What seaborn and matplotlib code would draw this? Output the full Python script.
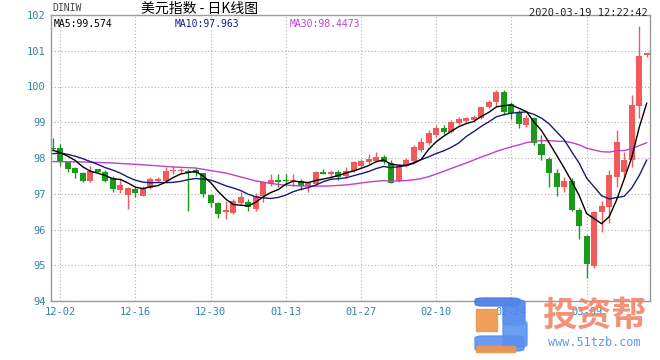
import numpy as np
import pandas as pd
import matplotlib
matplotlib.use("Agg")
import matplotlib.pyplot as plt
from matplotlib.patches import FancyBboxPatch, Rectangle
import seaborn as sns

# ---------------- data ----------------
start_date = "2019-11-29"
end_date = "2020-03-19"

opens = [98.28, 98.27, 97.89, 97.72, 97.57, 97.35, 97.68, 97.62, 97.43, 97.11,
         96.97, 97.13, 96.94, 97.16, 97.37, 97.37, 97.64, 97.64, 97.65, 97.66,
         97.57, 96.96, 96.75, 96.50, 96.47, 96.75, 96.77, 96.57, 96.94, 97.27,
         97.39, 97.38, 97.36, 97.37, 97.21, 97.27, 97.60, 97.56, 97.60, 97.51,
         97.65, 97.79, 97.89, 97.91, 98.03, 97.86, 97.37, 97.79, 97.93, 98.23,
         98.42, 98.65, 98.85, 98.73, 98.98, 99.04, 99.07, 99.12, 99.42, 99.58,
         99.86, 99.52, 99.28, 98.93, 99.12, 98.40, 97.98, 97.58, 97.19, 97.37,
         96.55, 95.81, 94.99, 96.48, 96.63, 97.47, 97.62, 97.95, 99.46, 100.87]
highs = [98.55, 98.38, 97.93, 97.76, 97.60, 97.79, 97.70, 97.67, 97.50, 97.40,
         97.18, 97.18, 97.23, 97.46, 97.48, 97.75, 97.78, 97.72, 97.70, 97.72,
         97.58, 96.99, 96.78, 96.80, 96.85, 97.04, 96.85, 97.01, 97.37, 97.56,
         97.56, 97.56, 97.56, 97.40, 97.32, 97.65, 97.70, 97.67, 97.67, 97.76,
         97.93, 97.98, 98.12, 98.17, 98.08, 97.95, 97.84, 98.00, 98.35, 98.56,
         98.79, 98.93, 98.93, 99.07, 99.14, 99.16, 99.20, 99.44, 99.63, 99.89,
         99.89, 99.58, 99.35, 99.20, 99.15, 98.65, 98.04, 97.69, 97.48, 97.44,
         96.60, 95.85, 96.51, 96.81, 97.67, 98.77, 98.18, 99.77, 101.68, 100.95]
lows = [98.20, 97.79, 97.62, 97.43, 97.32, 97.32, 97.58, 97.32, 97.04, 97.03,
        96.58, 96.90, 96.94, 97.13, 97.33, 97.32, 97.55, 97.58, 96.53, 97.50,
        96.90, 96.62, 96.33, 96.30, 96.42, 96.68, 96.52, 96.52, 96.76, 97.23,
        97.20, 97.23, 97.23, 97.10, 97.04, 97.23, 97.55, 97.44, 97.39, 97.44,
        97.62, 97.74, 97.84, 97.88, 97.82, 97.29, 97.32, 97.76, 97.88, 98.18,
        98.37, 98.60, 98.68, 98.70, 98.93, 98.98, 99.02, 99.09, 99.40, 99.46,
        99.21, 99.09, 98.85, 98.88, 98.37, 97.95, 97.20, 96.94, 97.06, 96.51,
        95.73, 94.64, 94.92, 95.92, 96.18, 97.20, 97.44, 97.76, 99.12, 100.82]
closes = [98.25, 97.89, 97.70, 97.57, 97.35, 97.65, 97.60, 97.37, 97.13, 97.25,
          97.16, 97.01, 97.16, 97.40, 97.41, 97.63, 97.66, 97.66, 97.60, 97.57,
          97.00, 96.73, 96.42, 96.55, 96.80, 96.90, 96.62, 96.94, 97.32, 97.39,
          97.32, 97.36, 97.38, 97.21, 97.29, 97.62, 97.56, 97.60, 97.48, 97.65,
          97.89, 97.93, 97.98, 98.03, 97.89, 97.30, 97.79, 97.95, 98.31, 98.46,
          98.70, 98.85, 98.73, 99.00, 99.10, 99.13, 99.16, 99.42, 99.58, 99.86,
          99.30, 99.26, 98.95, 99.12, 98.42, 98.09, 97.58, 97.19, 97.36, 96.55,
          96.09, 95.04, 96.48, 96.65, 97.53, 98.46, 97.95, 99.49, 100.86, 100.93]

# moving-average values before enough candles are on screen
ma5_head = [98.22, 98.15, 98.05, 97.93]
ma10_head = [98.12, 98.14, 98.10, 98.05, 97.98, 97.90, 97.82, 97.73, 97.66]
ma30_head_idx = [0, 4, 8, 12, 16, 19, 23, 27]
ma30_head_val = [97.90, 97.89, 97.86, 97.81, 97.75, 97.72, 97.58, 97.36]

tick_labels = ["12-02", "12-16", "12-30", "01-13", "01-27", "02-10", "02-24", "03-09"]
y_ticks = [94, 95, 96, 97, 98, 99, 100, 101, 102]

title_text = "美元指数 - 日K线图"
symbol_text = "DINIW"
stamp_text = "2020-03-19 12:22:42"
ma_labels = ["MA5:99.574", "MA10:97.963", "MA30:98.4473"]
brand_text = "投资帮"
url_text = "www.51tzb.com"

# ---------------- derived tables ----------------
dates = pd.bdate_range(start_date, end_date)
df = pd.DataFrame({"date": dates, "open": opens, "high": highs,
                   "low": lows, "close": closes})
df["idx"] = np.arange(len(df))
df["md"] = df["date"].dt.strftime("%m-%d")

ma5 = df["close"].rolling(5).mean()
ma5.iloc[:len(ma5_head)] = ma5_head
ma10 = df["close"].rolling(10).mean()
ma10.iloc[:len(ma10_head)] = ma10_head
ma30_calc = df["close"].rolling(30).mean()
ma30_df = pd.concat([
    pd.DataFrame({"idx": ma30_head_idx, "v": ma30_head_val}),
    pd.DataFrame({"idx": df["idx"][29:].values, "v": ma30_calc[29:].values}),
], ignore_index=True)

# ---------------- style ----------------
sns.set_theme(style="white")
plt.rcParams["font.family"] = ["DejaVu Sans Mono", "Noto Sans CJK SC"]

W, H = 660, 360
fig = plt.figure(figsize=(W / 100, H / 100), dpi=100)
fig.patch.set_facecolor("white")
ax_l, ax_r, ax_t, ax_b = 51, 650, 15, 301
ax = fig.add_axes([ax_l / W, 1 - ax_b / H, (ax_r - ax_l) / W, (ax_b - ax_t) / H])
ax.set_facecolor("white")

UP = "#F05A5A"
DOWN = "#1B991B"
TEAL = "#2E86A8"
GRID = "#b0b0b0"

up = df["close"] >= df["open"]
cols = np.where(up, UP, DOWN)

# wicks
ax.vlines(df["idx"], df["low"], df["high"], colors=cols, linewidth=1.0, zorder=2)
# bodies
body_bottom = np.minimum(df["open"], df["close"])
body_h = np.maximum(np.abs(df["close"] - df["open"]), 0.03)
ax.bar(df["idx"], body_h, bottom=body_bottom, width=0.8, color=cols,
       linewidth=0, zorder=3)

# moving averages
sns.lineplot(data=ma30_df, x="idx", y="v", color="#C040C8", linewidth=1.0,
             ax=ax, zorder=4, estimator=None, sort=False)
sns.lineplot(x=df["idx"], y=ma10.values, color="#1A1A78", linewidth=1.0,
             ax=ax, zorder=4, estimator=None)
sns.lineplot(x=df["idx"], y=ma5.values, color="black", linewidth=1.0,
             ax=ax, zorder=5, estimator=None)

# axes scales
ax.set_xlim(-0.23, 79.43)
ax.set_ylim(y_ticks[0], y_ticks[-1])
ax.set_yticks(y_ticks)
ax.set_yticklabels([str(t) for t in y_ticks])
tick_pos = [int(df.loc[df["md"] == t, "idx"].iloc[0]) for t in tick_labels]
ax.set_xticks(tick_pos)
ax.set_xticklabels(tick_labels)
ax.set_xlabel("")
ax.set_ylabel("")

ax.tick_params(axis="both", length=0, labelsize=7.5, colors=TEAL)
ax.tick_params(axis="x", pad=4)
ax.tick_params(axis="y", pad=4)

ax.grid(True, which="major", color=GRID, linestyle=(0, (1, 2)), linewidth=0.8)
ax.set_axisbelow(True)
for side in ["left", "bottom", "right", "top"]:
    ax.spines[side].set_visible(True)
    ax.spines[side].set_color("#9a9a9a")
    ax.spines[side].set_linewidth(1.0)

# ---------------- header texts ----------------
def fx(px):
    return px / W

def fy(py):
    return 1 - py / H

fig.text(fx(52), fy(8), symbol_text, fontsize=7, color="#444444",
         ha="left", va="center", family=["DejaVu Sans Mono"])
fig.text(fx(200), fy(9), title_text, fontsize=10, color="black",
         ha="center", va="center", family=["Noto Sans CJK SC", "DejaVu Sans"])
fig.text(fx(648), fy(13), stamp_text, fontsize=7.5, color="#222222",
         ha="right", va="center", family=["DejaVu Sans Mono"])
fig.text(fx(54), fy(24), ma_labels[0], fontsize=7, color="black",
         ha="left", va="center", family=["DejaVu Sans Mono"])
fig.text(fx(175), fy(24), ma_labels[1], fontsize=7, color="#1A1A8C",
         ha="left", va="center", family=["DejaVu Sans Mono"])
fig.text(fx(290), fy(24), ma_labels[2], fontsize=7, color="#C040C8",
         ha="left", va="center", family=["DejaVu Sans Mono"])

# ---------------- watermark ----------------
fig.text(fx(594), fy(315), brand_text, fontsize=25, color="#F2866A", alpha=0.9,
         ha="center", va="center", fontweight="bold",
         family=["Noto Sans CJK SC", "DejaVu Sans"])
fig.text(fx(594), fy(343), url_text, fontsize=8.5, color="#5B9BE0",
         ha="center", va="center", family=["DejaVu Sans Mono"])


def fig_rect(x0, y0, x1, y1, color, rounded=False):
    if rounded:
        p = FancyBboxPatch((fx(x0), fy(y1)), fx(x1 - x0), (y1 - y0) / H,
                           boxstyle="round,pad=0,rounding_size=0.012",
                           transform=fig.transFigure, color=color, alpha=0.9,
                           mutation_aspect=H / W)
    else:
        p = Rectangle((fx(x0), fy(y1)), fx(x1 - x0), (y1 - y0) / H,
                      transform=fig.transFigure, color=color, alpha=0.9)
    fig.patches.append(p)


fig_rect(475, 298, 520, 306, "#4C7BE5", rounded=True)
fig_rect(503, 300, 525, 325, "#4F86EC", rounded=True)
fig_rect(503, 321, 527, 347, "#5B95F0", rounded=True)
fig_rect(476, 309, 497, 331, "#F0964A")
fig_rect(475, 336, 524, 351, "#5B8FEF", rounded=True)
fig_rect(476, 346, 515, 352, "#F0964A")

fig.savefig("out.png", dpi=100, facecolor="white")
